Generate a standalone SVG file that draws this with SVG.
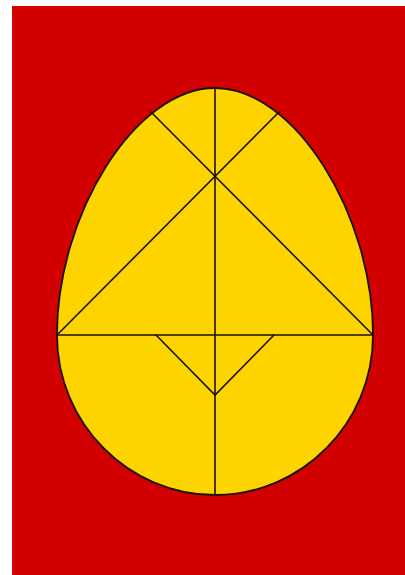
<svg xmlns="http://www.w3.org/2000/svg" width="405" height="575" viewBox="0 0 405 575">
  <style>
    .cut { fill: none; stroke: #1a1208; stroke-width: 1.6; stroke-linecap: round; }
  </style>
  <rect x="0" y="0" width="405" height="575" fill="#ffffff"/>
  <rect id="background" x="12" y="6" width="393" height="569" fill="#d30000"/>
  <path id="egg" d="M57,335 C57,215 135,88 215,88 C295,88 373,215 373,335 C373,423 302,495 215,495 C128,495 57,423 57,335 Z" fill="#fed400" stroke="#1a1208" stroke-width="1.8"/>
  <g id="cuts">
    <line class="cut" x1="215" y1="88" x2="215" y2="495"/>
    <line class="cut" x1="57" y1="335" x2="373" y2="335"/>
    <line class="cut" x1="57" y1="335" x2="279" y2="112"/>
    <line class="cut" x1="373" y1="335" x2="151" y2="112"/>
    <polyline class="cut" points="156,335 215,395 274,335"/>
  </g>
</svg>
